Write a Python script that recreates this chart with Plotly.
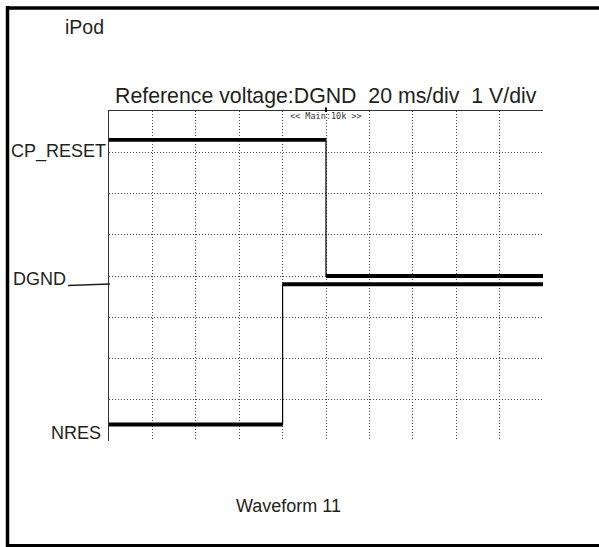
import plotly.graph_objects as go

# Oscilloscope capture: 20 ms/div horizontally, 1 V/div vertically (DGND reference)
time_ms = [0, 100, 100, 200]
cp_reset_v = [3.3, 3.3, 0.0, 0.0]

nres_time_ms = [0, 80, 80, 200]
nres_v = [-3.6, -3.6, -0.2, -0.2]

x_grid = [20, 40, 60, 80, 100, 120, 140, 160, 180]
y_grid = [-3, -2, -1, 0, 1, 2, 3]

W, H = 599, 547
L, R, T, B = 109, 543, 111, 441
INK = "#231f20"
FONT = "Liberation Sans, Arial, sans-serif"


def px(x):
    return (x - L) / (R - L)


def py(y):
    return (B - y) / (B - T)


def levels(ts, vs):
    # flat portions of a step trace, broken at each transition
    xs, ys = [], []
    for i in range(0, len(ts) - 1):
        if vs[i] == vs[i + 1]:
            xs += [ts[i], ts[i + 1], None]
            ys += [vs[i], vs[i + 1], None]
    return xs, ys


fig = go.Figure()
for ts, vs in [(time_ms, cp_reset_v), (nres_time_ms, nres_v)]:
    fig.add_trace(go.Scatter(x=ts, y=vs, mode="lines",
                             line=dict(color="black", width=1.2),
                             hoverinfo="skip", showlegend=False))
    lx, ly = levels(ts, vs)
    fig.add_trace(go.Scatter(x=lx, y=ly, mode="lines",
                             line=dict(color="black", width=3.8),
                             hoverinfo="skip", showlegend=False))

fig.update_xaxes(range=[0, 200], tickvals=x_grid, showticklabels=False,
                 ticks="", showgrid=True, gridcolor="#444", gridwidth=1,
                 griddash="1px,2px", zeroline=False, showline=True,
                 linecolor="#333", linewidth=1.3, side="top", mirror=False)
fig.update_yaxes(range=[-4, 4], tickvals=y_grid, showticklabels=False,
                 ticks="", showgrid=True, gridcolor="#444", gridwidth=1,
                 griddash="1px,2px", zeroline=False, showline=True,
                 linecolor="#333", linewidth=1.3)

shapes = [
    # page frame
    dict(type="line", xref="paper", yref="paper", x0=px(7.5), x1=px(605),
         y0=py(8), y1=py(8), line=dict(color="black", width=3.5)),
    dict(type="line", xref="paper", yref="paper", x0=px(7.5), x1=px(7.5),
         y0=py(6), y1=py(547), line=dict(color="black", width=3.5)),
    dict(type="line", xref="paper", yref="paper", x0=px(6), x1=px(605),
         y0=py(545.5), y1=py(545.5), line=dict(color="black", width=3)),
    # DGND leader line
    dict(type="line", xref="paper", yref="paper", x0=px(68), x1=px(110),
         y0=py(285.5), y1=py(284), line=dict(color=INK, width=1.5)),
    # trigger marker on the top edge
    dict(type="line", xref="x", yref="paper", x0=100, x1=100,
         y0=py(112), y1=py(107.5), line=dict(color="black", width=2)),
]

annotations = [
    dict(text="iPod", x=px(84), y=py(27), size=19.5),
    dict(text="Reference voltage:DGND  20 ms/div  1 V/div", x=px(326), y=py(96), size=21.3),
    dict(text="CP_RESET", x=px(108), y=py(151), size=18, xanchor="right"),
    dict(text="DGND", x=px(11), y=py(279), size=18, xanchor="left"),
    dict(text="NRES", x=px(103), y=py(433), size=18, xanchor="right"),
    dict(text="Waveform 11", x=px(288), y=py(505.5), size=18),
]
ann = []
for a in annotations:
    ann.append(dict(text=a["text"], x=a["x"], y=a["y"], xref="paper", yref="paper",
                    xanchor=a.get("xanchor", "center"), yanchor="middle",
                    showarrow=False, font=dict(family=FONT, size=a["size"], color=INK)))
ann.append(dict(text="&lt;&lt; Main:10k &gt;&gt;", x=px(325.5), y=py(115.5),
                xref="paper", yref="paper", xanchor="center", yanchor="middle",
                showarrow=False,
                font=dict(family="DejaVu Sans Mono, monospace", size=8.5, color="#333")))

fig.update_layout(width=W, height=H, margin=dict(l=L, r=W - R, t=T, b=H - B),
                  paper_bgcolor="white", plot_bgcolor="white",
                  shapes=shapes, annotations=ann)

fig.write_html("out.html", config={"displayModeBar": False})
